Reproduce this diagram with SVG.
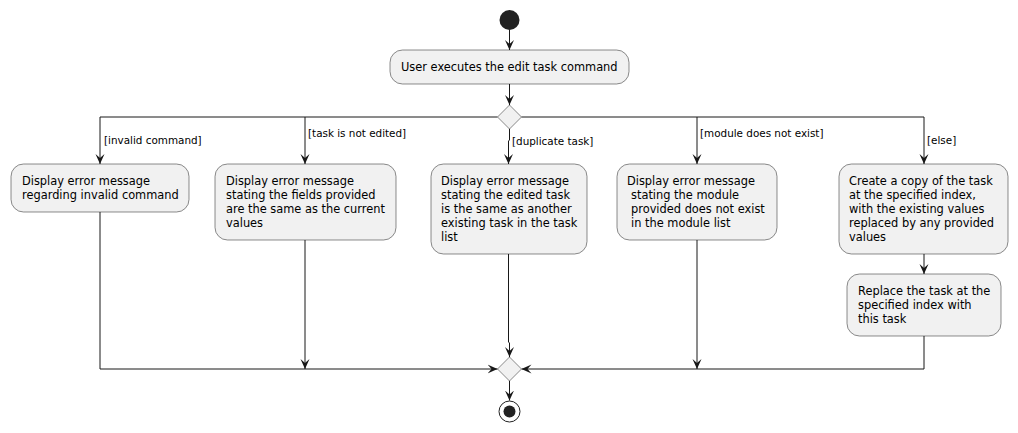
<svg xmlns="http://www.w3.org/2000/svg" width="1018" height="433" viewBox="0 0 1018 433">
<style>
.act{fill:#F1F1F1;stroke:#181818;stroke-width:0.5}
.dia{fill:#F1F1F1;stroke:#181818;stroke-width:0.5}
.t{font-family:"DejaVu Sans",sans-serif;font-size:11.4px;fill:#000}
.lbl{font-family:"DejaVu Sans",sans-serif;font-size:10.4px;fill:#000}
.ln{fill:none;stroke:#181818;stroke-width:1}
.arr{marker-end:url(#ah)}
</style>
<defs>
<marker id="ah" viewBox="0 0 10 10" refX="10" refY="5" markerWidth="10" markerHeight="10" markerUnits="userSpaceOnUse" orient="auto">
<path d="M0,0.5 L10,5 L0,9.5 L4,5 Z" fill="#181818"/>
</marker>
</defs>
<rect width="1018" height="433" fill="#FFFFFF"/>
<g id="connectors">
<line class="ln arr" x1="509.5" y1="30" x2="509.5" y2="50"/>
<line class="ln arr" x1="509.5" y1="84" x2="509.5" y2="105"/>
<polyline class="ln arr" points="497.5,117 100,117 100,164"/>
<polyline class="ln arr" points="305,117 305,164"/>
<polyline class="ln arr" points="509.5,129 509.5,140 508.5,141 508.5,164"/>
<polyline class="ln arr" points="697,117 697,164"/>
<polyline class="ln arr" points="521.5,117 924,117 924,164"/>
<line class="ln arr" x1="924" y1="254" x2="924" y2="274"/>
<polyline class="ln arr" points="100,212 100,369 497.5,369"/>
<line class="ln arr" x1="305" y1="240" x2="305" y2="369"/>
<polyline class="ln arr" points="508.5,254 508.5,342 509.5,343 509.5,357"/>
<line class="ln arr" x1="697" y1="240" x2="697" y2="369"/>
<polyline class="ln arr" points="924,336 924,369 521.5,369"/>
<line class="ln arr" x1="509.5" y1="381" x2="509.5" y2="400.5"/>
<text class="lbl" x="104" y="144">[invalid command]</text>
<text class="lbl" x="308" y="137">[task is not edited]</text>
<text class="lbl" x="512" y="145">[duplicate task]</text>
<text class="lbl" x="700" y="137">[module does not exist]</text>
<text class="lbl" x="927" y="144">[else]</text>
</g>
<g id="start"><circle cx="509.5" cy="20" r="10" fill="#222222"/></g>
<g id="user-executes">
<rect class="act" x="390" y="50" width="239" height="34" rx="12.5"/>
<text class="t" x="401" y="71">User executes the edit task command</text>
</g>
<g id="decision"><polygon class="dia" points="509.5,105 521.5,117 509.5,129 497.5,117"/></g>
<g id="invalid-command">
<rect class="act" x="11" y="164" width="178" height="48" rx="12.5"/>
<text class="t" x="22" y="185">Display error message</text>
<text class="t" x="22" y="199">regarding invalid command</text>
</g>
<g id="not-edited">
<rect class="act" x="215" y="164" width="181" height="76" rx="12.5"/>
<text class="t" x="226" y="185">Display error message</text>
<text class="t" x="226" y="199">stating the fields provided</text>
<text class="t" x="226" y="213">are the same as the current</text>
<text class="t" x="226" y="227">values</text>
</g>
<g id="duplicate-task">
<rect class="act" x="431" y="164" width="156" height="90" rx="12.5"/>
<text class="t" x="441" y="185">Display error message</text>
<text class="t" x="441" y="199">stating the edited task</text>
<text class="t" x="441" y="213">is the same as another</text>
<text class="t" x="441" y="227">existing task in the task</text>
<text class="t" x="441" y="241">list</text>
</g>
<g id="module-missing">
<rect class="act" x="617" y="164" width="160" height="76" rx="12.5"/>
<text class="t" x="627" y="185">Display error message</text>
<text class="t" x="631" y="199">stating the module</text>
<text class="t" x="631" y="213">provided does not exist</text>
<text class="t" x="631" y="227">in the module list</text>
</g>
<g id="create-copy">
<rect class="act" x="839" y="164" width="169" height="90" rx="12.5"/>
<text class="t" x="849" y="185">Create a copy of the task</text>
<text class="t" x="849" y="199">at the specified index,</text>
<text class="t" x="849" y="213">with the existing values</text>
<text class="t" x="849" y="227">replaced by any provided</text>
<text class="t" x="849" y="241">values</text>
</g>
<g id="replace-task">
<rect class="act" x="847" y="274" width="154" height="62" rx="12.5"/>
<text class="t" x="858" y="295">Replace the task at the</text>
<text class="t" x="858" y="309">specified index with</text>
<text class="t" x="858" y="323">this task</text>
</g>
<g id="merge"><polygon class="dia" points="509.5,357 521.5,369 509.5,381 497.5,369"/></g>
<g id="end">
<circle cx="509.5" cy="411.5" r="10.5" fill="none" stroke="#222222" stroke-width="1"/>
<circle cx="509.5" cy="411.5" r="6" fill="#222222"/>
</g>
</svg>
